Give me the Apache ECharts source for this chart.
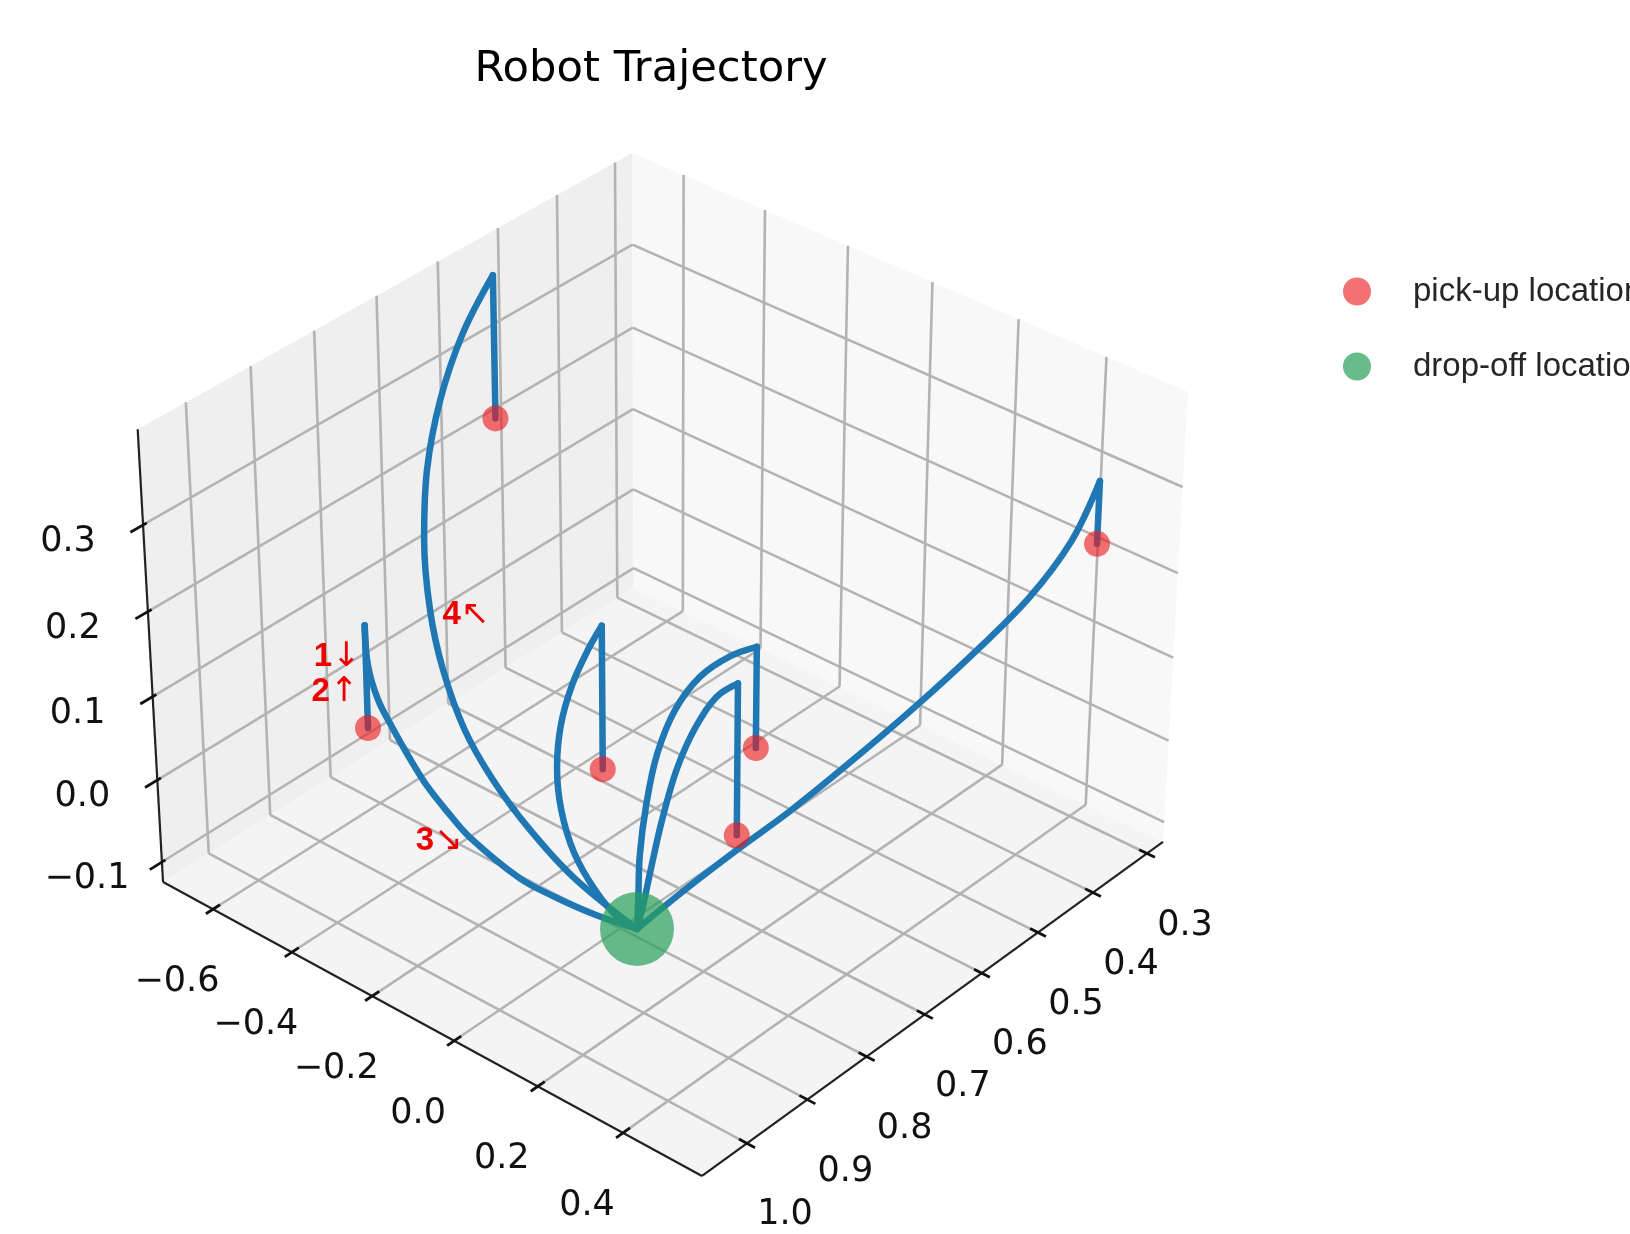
<!DOCTYPE html>
<html><head><meta charset="utf-8">
<script src="https://cdn.jsdelivr.net/npm/echarts/dist/echarts.min.js"></script>
<style>html,body{margin:0;padding:0;background:#fff}#c{width:1630px;height:1234px}</style>
</head><body><div id="c"></div>
<script>
// ---------------- data ----------------
const xTicks = [0.3, 0.4, 0.5, 0.6, 0.7, 0.8, 0.9, 1.0];
const xTickLabels = ['0.3', '0.4', '0.5', '0.6', '0.7', '0.8', '0.9', '1.0'];
const yTicks = [-0.6, -0.4, -0.2, 0.0, 0.2, 0.4];
const yTickLabels = ['\u22120.6', '\u22120.4', '\u22120.2', '0.0', '0.2', '0.4'];
const zTicks = [-0.1, 0.0, 0.1, 0.2, 0.3];
const zTickLabels = ['\u22120.1', '0.0', '0.1', '0.2', '0.3'];
const xLimits = [0.2702, 1.0732];
const yLimits = [-0.7287, 0.5817];
const zLimits = [-0.1247, 0.4084];

const dropOff = [0.817, 0.065, -0.100];
const pickUps = [
  [0.553, -0.663, 0.22],
  [0.903, -0.461, 0.05],
  [0.731, -0.141, 0.00],
  [0.711, 0.196, 0.10],
  [0.669, 0.095, -0.05],
  [0.310, 0.446, 0.22]
];
const hoverZ = [0.388, 0.172, 0.171, 0.218, 0.132, 0.293];
const path1 = [[0.608,-0.657,0.344],[0.671,-0.621,0.299],[0.731,-0.565,0.255],[0.782,-0.497,0.211],[0.826,-0.418,0.166],[0.850,-0.352,0.122],[0.868,-0.274,0.078],[0.866,-0.209,0.033],[0.858,-0.133,-0.011],[0.842,-0.049,-0.056]];
const path2 = [[0.928,-0.416,0.147],[0.941,-0.373,0.123],[0.941,-0.339,0.098],[0.941,-0.300,0.073],[0.939,-0.261,0.048],[0.933,-0.221,0.024],[0.924,-0.180,-0.001],[0.916,-0.072,-0.026],[0.888,-0.028,-0.051],[0.856,0.021,-0.075]];
const path3 = [[0.739,-0.163,0.141],[0.765,-0.164,0.111],[0.795,-0.148,0.081],[0.823,-0.117,0.051],[0.844,-0.077,0.021],[0.859,-0.025,-0.010],[0.862,0.030,-0.040],[0.849,0.065,-0.070]];
const path4 = [[0.693,0.109,0.178],[0.695,0.042,0.139],[0.712,0.007,0.099],[0.742,0.006,0.059],[0.774,0.026,0.019],[0.803,0.052,-0.021],[0.821,0.074,-0.060]];
const path5 = [[0.663,0.036,0.099],[0.683,0.014,0.066],[0.716,0.017,0.033],[0.761,0.045,-0.001],[0.801,0.075,-0.034],[0.817,0.080,-0.067]];
const path6 = [[0.365,0.455,0.249],[0.426,0.440,0.206],[0.485,0.401,0.162],[0.559,0.358,0.118],[0.629,0.309,0.075],[0.693,0.253,0.031],[0.733,0.186,-0.013],[0.776,0.124,-0.056]];
const paths = [path1, path2, path3, path4, path5, path6];
const annoDigits = ['1', '2', '3', '4'];
const annoArrows = ['\u2193', '\u2191', '\u2198', '\u2196'];
const annoPos = [[0.918,-0.509,0.13],[0.923,-0.510,0.09],[0.952,-0.213,0.0],[0.788,-0.388,0.15]];

// ---------------- view (camera) ----------------
const C0 = [665.5, 641.7];
const MP = [-477.3, 304.3], MQ = [547.1, 265.5], MR = [0, -451.2];
const WP = [-0.0741, -0.0639, -0.049];
function proj(pt) {
  const p = (pt[0]-xLimits[0])/(xLimits[1]-xLimits[0]) - 0.5;
  const q = (pt[1]-yLimits[0])/(yLimits[1]-yLimits[0]) - 0.5;
  const r = (pt[2]-zLimits[0])/(zLimits[1]-zLimits[0]) - 0.5;
  const k = 1 + WP[0]*p + WP[1]*q + WP[2]*r;
  return [C0[0] + (MP[0]*p + MQ[0]*q + MR[0]*r)/k, C0[1] + (MP[1]*p + MQ[1]*q + MR[1]*r)/k];
}
const [x0, x1] = xLimits, [y0, y1] = yLimits, [z0, z1] = zLimits;
const dX = x1 - x0, dY = y1 - y0;

// panes
const paneColors = ['#f4f4f4', '#efefef', '#f8f8f8'];
const panes = [
  [[x0,y0,z0],[x1,y0,z0],[x1,y1,z0],[x0,y1,z0]],
  [[x0,y0,z0],[x1,y0,z0],[x1,y0,z1],[x0,y0,z1]],
  [[x0,y0,z0],[x0,y1,z0],[x0,y1,z1],[x0,y0,z1]]
];
const paneData = panes.map((pl, i) => { const a = []; pl.forEach(pt => { const s = proj(pt); a.push(s[0], s[1]); }); a.push(i); return a; });

function seg(a, b) { const s = proj(a), t = proj(b); return [s[0], s[1], t[0], t[1]]; }
const grid = [];
xTicks.forEach(v => { grid.push(seg([v,y0,z0],[v,y1,z0])); grid.push(seg([v,y0,z0],[v,y0,z1])); });
yTicks.forEach(v => { grid.push(seg([x0,v,z0],[x1,v,z0])); grid.push(seg([x0,v,z0],[x0,v,z1])); });
zTicks.forEach(v => { grid.push(seg([x0,y0,v],[x1,y0,v])); grid.push(seg([x0,y0,v],[x0,y1,v])); });
const axisLines = [seg([x0,y1,z0],[x1,y1,z0]), seg([x1,y0,z0],[x1,y1,z0]), seg([x1,y0,z0],[x1,y0,z1])];
const ticks = [];
xTicks.forEach(v => ticks.push(seg([v, y1 - dY*0.014, z0], [v, y1 + dY*0.014, z0])));
yTicks.forEach(v => ticks.push(seg([x1 - dX*0.014, v, z0], [x1 + dX*0.014, v, z0])));
zTicks.forEach(v => ticks.push(seg([x1 - dX*0.007, y0, v], [x1 + dX*0.024, y0, v])));

const labelTexts = [];
const labelData = [];
xTicks.forEach((v, i) => { const s = proj([v, y1, z0]); labelData.push([s[0]+38, s[1]+72, labelTexts.length]); labelTexts.push(xTickLabels[i]); });
yTicks.forEach((v, i) => { const s = proj([x1, v, z0]); labelData.push([s[0]-36, s[1]+73, labelTexts.length]); labelTexts.push(yTickLabels[i]); });
zTicks.forEach((v, i) => { const s = proj([x1, y0, v]); labelData.push([s[0]-75, s[1]+17, labelTexts.length]); labelTexts.push(zTickLabels[i]); });
const annoData = annoPos.map((pt, i) => { const s = proj(pt); return [s[0], s[1], i]; });

function segSeries(name, data, color, width, z) {
  return { type: 'custom', name, data, z, silent: true, clip: false,
    renderItem: (params, api) => {
      const a = api.coord([api.value(0), api.value(1)]), b = api.coord([api.value(2), api.value(3)]);
      return { type: 'line', shape: { x1: a[0], y1: a[1], x2: b[0], y2: b[1] }, style: { stroke: color, lineWidth: width, lineCap: 'butt' } };
    } };
}

const series = [];
series.push({ type: 'custom', name: 'panes', data: paneData, z: 1, silent: true, clip: false,
  renderItem: (params, api) => {
    const pts = [];
    for (let i = 0; i < 4; i++) pts.push(api.coord([api.value(2*i), api.value(2*i+1)]));
    return { type: 'polygon', shape: { points: pts }, style: { fill: paneColors[api.value(8)], stroke: null } };
  } });
series.push(segSeries('grid', grid, '#b3b3b3', 2.6, 2));
series.push(segSeries('axes', axisLines, '#222', 2.2, 3));
series.push(segSeries('ticks', ticks, '#111', 2.8, 3));
series.push({ type: 'custom', name: 'ticklabels', data: labelData, z: 3, silent: true, clip: false,
  renderItem: (params, api) => {
    const c = api.coord([api.value(0), api.value(1)]);
    return { type: 'text', x: c[0], y: c[1], style: { text: labelTexts[api.value(2)], font: '35px "DejaVu Sans"', fill: '#111', align: 'center', verticalAlign: 'middle' } };
  } });

const lineStyle = { color: '#1f77b4', width: 6.5, cap: 'round', join: 'round' };
paths.forEach((path, i) => {
  const pu = pickUps[i];
  const hover = [pu[0], pu[1], hoverZ[i]];
  series.push({ type: 'line', name: 'trajectory', data: [proj(pu), proj(hover)], symbol: 'none', lineStyle, z: 4, silent: true, clip: false });
  const pts = [hover].concat(path, [dropOff]).map(proj);
  series.push({ type: 'line', name: 'trajectory', data: pts, smooth: 0.35, symbol: 'none', lineStyle, z: 4, silent: true, clip: false });
});
series.push({ type: 'scatter', name: 'pick-up location', data: pickUps.map(proj), symbol: 'circle', symbolSize: 26, itemStyle: { color: 'rgba(235,25,30,0.78)' }, z: 5, silent: true });
series.push({ type: 'scatter', name: 'drop-off location', data: [proj(dropOff)], symbol: 'circle', symbolSize: 74, itemStyle: { color: 'rgba(40,160,90,0.88)' }, z: 6, silent: true });
series.push({ type: 'custom', name: 'annotations', data: annoData, z: 7, silent: true, clip: false,
  renderItem: (params, api) => {
    const c = api.coord([api.value(0), api.value(1)]);
    const i = api.value(2);
    return { type: 'text', x: c[0], y: c[1], style: {
      text: '{d|' + annoDigits[i] + '}{a|' + annoArrows[i] + '}', fill: '#ee0000', align: 'center', verticalAlign: 'middle',
      rich: { d: { font: 'bold 33px "Liberation Sans"', fill: '#ee0000' }, a: { font: '34px "DejaVu Sans"', fill: '#ee0000' } } } };
  } });

const chart = echarts.init(document.getElementById('c'), null, { renderer: 'canvas' });
chart.setOption({
  animation: false,
  backgroundColor: '#ffffff',
  title: { text: 'Robot Trajectory', left: 646, top: 43, textAlign: 'center',
    textStyle: { fontFamily: 'DejaVu Sans', fontSize: 43.3, fontWeight: 'normal', color: '#000' } },
  legend: { data: ['pick-up location', 'drop-off location'], orient: 'vertical', left: 1338, top: 270,
    itemWidth: 28, itemHeight: 28, itemGap: 42, icon: 'circle',
    textStyle: { fontFamily: 'Liberation Sans', fontSize: 33, color: '#262626', padding: [0, 0, 0, 37] } },
  grid: { left: 0, top: 0, width: 1630, height: 1234 },
  xAxis: { type: 'value', min: 0, max: 1630, show: false },
  yAxis: { type: 'value', min: 0, max: 1234, inverse: true, show: false },
  series
});
</script></body></html>
